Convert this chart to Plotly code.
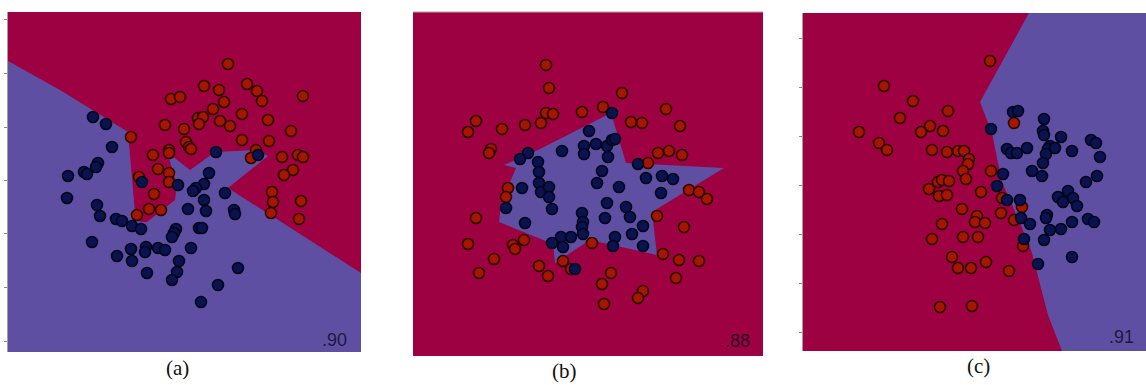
import plotly.graph_objects as go

W, H = 1146, 385

# ---------------- data (image-pixel units) ----------------
# panel (a)
a_red_x = [228,204,219,247,257,262,303,171,180,224,213,242,198,203,199,220,230,165,184,268,291,131,186,189,191,242,269,169,169,256,251,153,282,298,303,158,169,293,284,139,169,154,272,273,301,149,161,137,271,299]
a_red_y = [64,86,90,84,91,101,96,99,97,102,109,114,118,117,124,121,126,125,129,120,131,137,142,147,149,140,141,150,153,150,158,155,157,155,157,169,173,170,175,177,182,194,192,202,201,209,210,215,213,219]
a_blue_x = [93,106,112,216,258,98,96,68,84,87,209,142,178,204,196,193,225,67,204,97,188,206,234,235,100,116,122,132,141,176,174,172,199,202,92,191,131,146,145,158,165,117,132,179,177,172,147,238,218,201]
a_blue_y = [117,124,147,152,155,163,167,176,172,174,173,182,185,184,188,191,193,198,200,205,209,211,210,214,216,219,221,226,229,229,233,237,228,228,242,248,249,247,252,248,250,256,261,261,272,280,273,268,285,302]
a_region_x = [8,60,128,131,133,135,140,147,175,177,167,190,215,256,268,228,361,361,8]
a_region_y = [61,90,132,170,197,213,222,222,200,185,152,170,152,150,156,188,273,352,352]

# panel (b)
b_red_x = [546,549,622,546,553,582,603,666,476,468,502,525,541,631,642,680,491,489,658,669,682,648,508,506,689,699,707,476,657,684,468,524,513,515,592,494,563,663,679,699,479,539,548,611,602,643,638,676,604,571]
b_red_y = [65,88,93,113,114,112,107,109,121,132,129,125,123,122,123,126,149,153,153,151,155,163,188,197,190,192,199,218,216,227,244,240,245,249,243,259,261,254,260,261,273,266,276,273,284,291,298,278,304,269]
b_blue_x = [612,589,562,584,584,596,607,612,615,608,528,520,538,539,539,541,549,549,602,638,646,662,673,597,619,661,522,552,506,607,626,582,583,582,583,605,630,643,525,561,571,552,563,632,615,613,643,575]
b_blue_y = [113,131,151,146,154,144,146,140,139,157,153,159,162,172,183,192,187,197,171,164,178,176,179,183,187,193,188,209,208,203,207,213,222,227,234,218,217,226,223,237,237,243,247,234,237,246,246,269]
b_region_x = [611,626,724,652,657,590,555,553,499,501,510,516,504,522,538,611]
b_region_y = [113,163,168,212,255,240,263,244,222,205,182,168,165,157,150,113]

# panel (c)
c_red_x = [990,884,913,948,900,1014,930,921,943,859,879,887,932,947,958,964,969,968,963,966,991,938,942,949,929,939,947,981,1002,962,977,975,985,1001,1022,1014,942,932,963,978,1023,952,958,971,986,1009,940,972]
c_red_y = [61,86,101,111,118,123,126,132,131,132,143,150,150,152,151,151,159,164,171,179,171,182,180,181,189,196,195,192,198,209,216,222,223,213,207,220,224,239,237,237,246,257,268,268,262,271,307,306]
c_blue_x = [1013,1018,1044,991,1043,1044,1061,1091,1096,1027,1007,1011,1017,1050,1048,1055,1046,1072,1100,1043,1042,1032,1003,997,1097,1086,1068,1058,1063,1073,1077,1007,1020,1047,1046,1021,1030,1072,1088,1094,1050,1061,1024,1044,1072,1038]
c_blue_y = [112,111,119,129,131,135,137,140,143,148,149,153,153,146,149,148,154,151,157,163,176,171,174,186,176,182,191,197,202,198,206,200,200,215,218,218,224,222,219,222,230,229,239,240,257,264]
c_region_x = [1029,1146,1146,1062,1048,1032,1020,1002,998,992,980,1029]
c_region_y = [13,13,351,351,315,253,223,182,163,133,102,13]

scores = [".90", ".88", ".91"]
labels = ["(a)", "(b)", "(c)"]
a_ticks = [19,73,127,180,233,287,341]
c_ticks = [38,87,136,185,234,283,332]

# ---------------- styling ----------------
RED_BG = "#9e0142"
BLUE_BG = "#5e4fa2"
RED_PT = "#a31600"
RED_EDGE = "#300000"
BLUE_PT = "#0a1250"
BLUE_EDGE = "#03061a"

panels = [
    dict(bounds=(8, 361, 12, 352), bg=RED_BG, region=(a_region_x, a_region_y), region_col=BLUE_BG,
         red=(a_red_x, a_red_y), blue=(a_blue_x, a_blue_y), ticks=a_ticks,
         score_pos=(334, 340), label_pos=(177, 368)),
    dict(bounds=(413, 763, 12, 356), bg=RED_BG, region=(b_region_x, b_region_y), region_col=BLUE_BG,
         red=(b_red_x, b_red_y), blue=(b_blue_x, b_blue_y), ticks=None,
         score_pos=(737, 341), label_pos=(564, 371)),
    dict(bounds=(803, 1146, 13, 351), bg=RED_BG, region=(c_region_x, c_region_y), region_col=BLUE_BG,
         red=(c_red_x, c_red_y), blue=(c_blue_x, c_blue_y), ticks=c_ticks,
         score_pos=(1121, 337), label_pos=(978, 366)),
]

fig = go.Figure()
shapes = []
annotations = []
for i, p in enumerate(panels):
    n = "" if i == 0 else str(i + 1)
    xa, ya = "x" + n, "y" + n
    x0, x1, y0, y1 = p["bounds"]
    shapes.append(dict(type="rect", xref=f"{xa} domain", yref=f"{ya} domain", x0=0, x1=1, y0=0, y1=1,
                       fillcolor=p["bg"], line=dict(width=0), layer="below"))
    rx, ry = p["region"]
    fig.add_trace(go.Scatter(x=rx, y=ry, xaxis=xa, yaxis=ya, mode="lines", fill="toself",
                             fillcolor=p["region_col"], line=dict(width=0, color=p["region_col"]),
                             hoverinfo="skip", showlegend=False))
    fig.add_trace(go.Scatter(x=p["red"][0], y=p["red"][1], xaxis=xa, yaxis=ya, mode="markers",
                             marker=dict(size=11, color=RED_PT, line=dict(width=1.6, color=RED_EDGE)),
                             showlegend=False))
    fig.add_trace(go.Scatter(x=p["blue"][0], y=p["blue"][1], xaxis=xa, yaxis=ya, mode="markers",
                             marker=dict(size=11, color=BLUE_PT, line=dict(width=1.6, color=BLUE_EDGE)),
                             showlegend=False))
    xdom = [x0 / W, x1 / W]
    ydom = [1 - y1 / H, 1 - y0 / H]
    xaxis = dict(domain=xdom, range=[x0, x1], showgrid=False, zeroline=False, showticklabels=False,
                 ticks="", fixedrange=True, anchor=ya)
    yaxis = dict(domain=ydom, range=[y1, y0], showgrid=False, zeroline=False, showticklabels=False,
                 anchor=xa, fixedrange=True)
    if p["ticks"] is not None:
        yaxis.update(ticks="outside", ticklen=3, tickcolor="#8a8a8a", tickwidth=1, tickvals=p["ticks"],
                     showline=True, linecolor="#a0a0a0", linewidth=1)
    else:
        yaxis.update(ticks="")
    fig.update_layout(**{("xaxis" + n): xaxis, ("yaxis" + n): yaxis})
    sx, sy = p["score_pos"]
    annotations.append(dict(x=sx, y=sy, xref=xa, yref=ya, text=scores[i], showarrow=False,
                            xanchor="center", yanchor="middle",
                            font=dict(family="Liberation Sans, Arial", size=18, color="rgba(10,10,30,0.8)")))
    lx, ly = p["label_pos"]
    annotations.append(dict(x=lx / W, y=1 - ly / H, xref="paper", yref="paper", text=labels[i],
                            showarrow=False, xanchor="center", yanchor="middle",
                            font=dict(family="Liberation Serif, Times New Roman", size=21, color="#111111")))

shapes.append(dict(type="line", xref="x2 domain", yref="y2 domain", x0=0, x1=1, y0=1, y1=1,
                   line=dict(color="#b0a0a8", width=1), layer="above"))

fig.update_layout(width=W, height=H, margin=dict(l=0, r=0, t=0, b=0), paper_bgcolor="white",
                  plot_bgcolor="white", shapes=shapes, annotations=annotations, showlegend=False)
fig.write_html("out.html", config={"displayModeBar": False},
               post_script="document.body.style.margin='0';document.body.style.padding='0';document.body.style.overflow='hidden';")
